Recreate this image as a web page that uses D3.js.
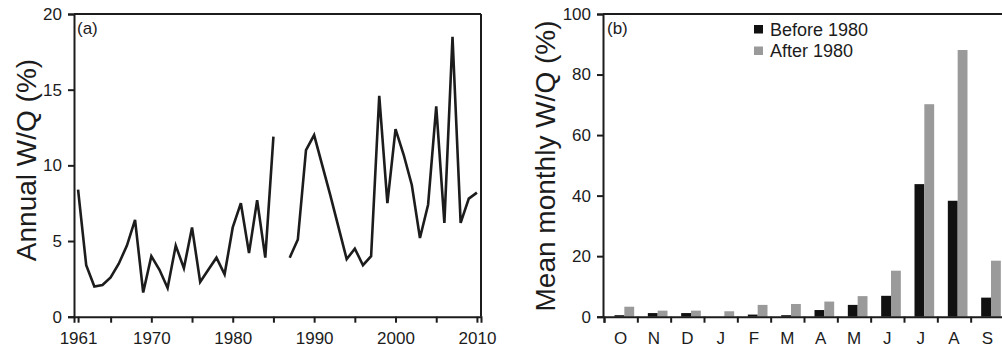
<!DOCTYPE html>
<html><head><meta charset="utf-8">
<script src="https://cdn.jsdelivr.net/npm/d3@7"></script>
<style>
body{margin:0;background:#fff}
text{font-family:"Liberation Sans",Arial,Helvetica,sans-serif;fill:#1c1c1c}
</style>
</head><body>
<svg id="c" width="1002" height="351"></svg>
<script>
// ---- data ----
const years = d3.range(1961, 2011);
const annualWQ = [8.4,3.4,2.0,2.1,2.6,3.5,4.7,6.4,1.6,4.0,3.1,1.9,4.7,3.2,5.9,2.3,3.1,3.9,2.8,5.9,
  7.5,4.2,7.7,3.9,11.9,null,3.9,5.1,11.0,12.0,10.0,8.0,5.9,3.8,4.5,3.4,4.0,14.6,7.5,12.4,
  10.7,8.7,5.2,7.4,13.9,6.2,18.5,6.2,7.8,8.2];
const yearTicks = [1961,1965,1970,1975,1980,1985,1990,1995,2000,2005,2010];
const yearLabels = [1961,1970,1980,1990,2000,2010];
const annualTicks = [0,5,10,15,20];

const months = ["O","N","D","J","F","M","A","M","J","J","A","S"];
const before1980 = [0.5,1.2,1.2,0,0.7,0.5,2.2,3.9,6.9,43.8,38.3,6.3];
const after1980 = [3.3,2.0,2.0,1.8,3.9,4.2,5.0,6.8,15.2,70.2,88.1,18.5];
const monthlyTicks = [0,20,40,60,80,100];
const seriesNames = ["Before 1980","After 1980"];
const seriesColors = ["#111111","#9a9a9a"];

const svg = d3.select("#c");
const yTop = 14, yBottom = 316.7;

function styleAxis(g){
  g.selectAll("path.domain").attr("stroke","#1c1c1c").attr("stroke-width",2);
  g.selectAll(".tick line").attr("stroke","#1c1c1c").attr("stroke-width",2);
  g.selectAll(".tick text").style("font-size","17px").attr("fill","#1c1c1c");
}

// ---- panel (a) ----
const xA = d3.scaleLinear().domain([1960.5, 2010.5]).range([74, 481]);
const yA = d3.scaleLinear().domain([0, 20]).range([yBottom, yTop]);

const gA = svg.append("g");
gA.append("line").attr("x1",74).attr("x2",481).attr("y1",yTop).attr("y2",yTop)
  .attr("stroke","#1c1c1c").attr("stroke-width",2);
gA.append("line").attr("x1",481).attr("x2",481).attr("y1",yTop).attr("y2",yBottom)
  .attr("stroke","#1c1c1c").attr("stroke-width",2);

const line = d3.line().defined(d => d[1] !== null)
  .x(d => xA(d[0])).y(d => yA(d[1]));
gA.append("path").datum(years.map((y,i)=>[y, annualWQ[i]]))
  .attr("d", line).attr("fill","none").attr("stroke","#1c1c1c")
  .attr("stroke-width",2.6).attr("stroke-linejoin","miter");

gA.append("g").attr("transform",`translate(0,${yBottom})`)
  .call(d3.axisBottom(xA).tickValues(yearTicks).tickSize(6).tickPadding(9)
    .tickFormat(d => yearLabels.includes(d) ? String(d) : ""))
  .call(styleAxis);
gA.append("g").attr("transform",`translate(74,0)`)
  .call(d3.axisLeft(yA).tickValues(annualTicks).tickSize(6).tickPadding(6))
  .call(styleAxis);

gA.append("text").attr("x",77).attr("y",34).style("font-size","17px").text("(a)");
gA.append("text").attr("transform","translate(26,160) rotate(-90)")
  .attr("text-anchor","middle").attr("dy","0.35em").style("font-size","28px")
  .text("Annual W/Q (%)");

// ---- panel (b) ----
const idx = d3.range(months.length);
const xB = d3.scaleBand().domain(idx).range([604, 1004]).padding(0);
const xBt = d3.scaleLinear().domain([0, months.length]).range([604, 1004]);
const xS = d3.scaleBand().domain(seriesNames)
  .range([xB.bandwidth()*0.315, xB.bandwidth()*0.905]).padding(0);
const yB = d3.scaleLinear().domain([0, 100]).range([yBottom, yTop]);

const gB = svg.append("g");
gB.append("line").attr("x1",603).attr("x2",1002).attr("y1",yTop).attr("y2",yTop)
  .attr("stroke","#1c1c1c").attr("stroke-width",2);

const barData = [];
idx.forEach(i => {
  barData.push({i, s: seriesNames[0], v: before1980[i], c: seriesColors[0]});
  barData.push({i, s: seriesNames[1], v: after1980[i], c: seriesColors[1]});
});
gB.selectAll("rect.bar").data(barData).join("rect").attr("class","bar")
  .attr("x", d => xB(d.i) + xS(d.s)).attr("width", xS.bandwidth())
  .attr("y", d => yB(d.v)).attr("height", d => yB(0) - yB(d.v))
  .attr("fill", d => d.c);

// tick marks at band boundaries
gB.append("g").attr("transform",`translate(0,${yBottom})`)
  .call(d3.axisBottom(xBt).tickValues(d3.range(0, months.length+1)).tickSize(6).tickFormat(""))
  .call(styleAxis);
// labels at band centres
const labAxis = gB.append("g").attr("transform",`translate(0,${yBottom})`)
  .call(d3.axisBottom(xB).tickSize(0).tickPadding(15).tickFormat(i => months[i]))
  .call(styleAxis);
labAxis.select("path.domain").remove();

gB.append("g").attr("transform",`translate(603,0)`)
  .call(d3.axisLeft(yB).tickValues(monthlyTicks).tickSize(6).tickPadding(6))
  .call(styleAxis);

gB.append("text").attr("x",607).attr("y",34).style("font-size","17px").text("(b)");
gB.append("text").attr("transform","translate(545,166) rotate(-90)")
  .attr("text-anchor","middle").attr("dy","0.35em").style("font-size","28px")
  .text("Mean monthly W/Q (%)");

// legend
const leg = gB.append("g");
seriesNames.forEach((n, k) => {
  const yy = 25 + k*21.5;
  leg.append("rect").attr("x",754).attr("y",yy).attr("width",9).attr("height",8.5)
    .attr("fill", seriesColors[k]);
  leg.append("text").attr("x",770).attr("y",yy+10.5).style("font-size","18px").text(n);
});
</script>
</body></html>
